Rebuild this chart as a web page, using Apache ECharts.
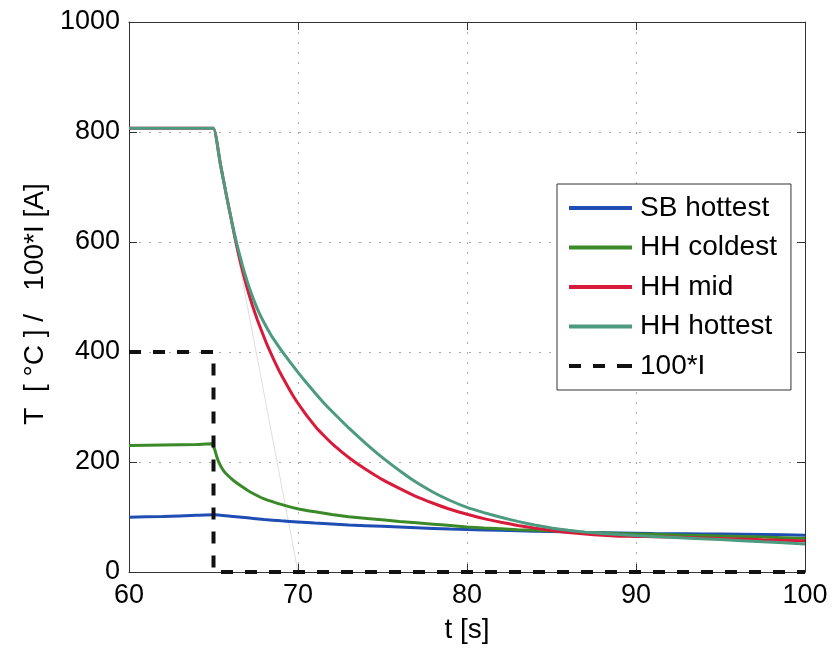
<!DOCTYPE html>
<html>
<head>
<meta charset="utf-8">
<title>Temperature and current decay</title>
<script src="https://cdn.jsdelivr.net/npm/echarts@6/dist/echarts.min.js"></script>
<style>
  html, body { margin: 0; padding: 0; background: #fff; }
  #chart { width: 833px; height: 651px; }
</style>
</head>
<body>
<div id="chart"></div>
<script>
// Axis ticks
const xTicks = [60, 70, 80, 90, 100];
const yTicks = [0, 200, 400, 600, 800, 1000];

// SB hottest
const sbHottestT = [60, 62, 64, 65, 66, 67, 68, 69, 70, 71, 73, 75, 77, 79, 81, 83, 85, 87, 89, 91, 93, 95, 97.5, 100];
const sbHottestV = [99.5, 101, 103, 104, 101.5, 98.5, 95.5, 93, 91, 89, 85.5, 83, 80.5, 78, 76.5, 75, 73.5, 72, 71, 70, 69.5, 69, 68, 67];

// HH coldest
const hhColdestT = [60, 62, 64, 64.9, 65, 65.1, 65.2, 65.35, 65.6, 65.9, 66.2, 66.7, 67.15, 68, 69.1, 70.1, 71.1, 72, 73, 74.25, 76, 78, 79, 80, 81, 83, 85, 87, 89, 91, 93, 95, 97.5, 100];
const hhColdestV = [230, 231, 232, 233, 228, 220, 209, 197, 184, 174, 166, 155, 146, 133, 122, 114, 109, 104.5, 100.5, 97, 92, 87, 84.5, 82, 80, 77, 74.5, 72, 70, 68.5, 67, 65.5, 63.5, 61];

// HH mid
const hhMidT = [60, 64.5, 65, 65.4, 65.8, 66.06, 66.3, 66.5, 66.75, 67, 67.3, 67.6, 67.9, 68.2, 68.6, 69, 69.4, 69.8, 70.2, 70.6, 71.1, 71.6, 72.1, 72.6, 73.1, 73.6, 74.3, 75, 76, 77, 78, 79, 80, 81, 82, 83, 84, 85, 86, 87, 88, 89, 90, 91, 93, 95, 97.5, 100];
const hhMidV = [807, 807, 807, 743, 679, 640, 603, 575, 544, 515, 485, 458, 434, 411, 384, 359, 337, 316, 298, 281, 262, 246, 231, 218, 206, 195, 181, 168, 152, 137, 125, 114, 105, 97, 90.5, 84.7, 79.8, 75.4, 71.9, 68.9, 66.8, 65.2, 64.6, 64.2, 62.6, 61, 58.6, 56.5];

// HH hottest
const hhHottestT = [60, 64.5, 65, 65.4, 65.8, 66.1, 66.36, 66.7, 67, 67.35, 67.7, 68.05, 68.4, 68.7, 69.06, 69.5, 70, 70.5, 71, 71.6, 72.27, 73, 74, 75, 76.22, 77, 78, 79, 80, 81, 82, 83, 84, 85, 86, 87, 88, 89, 90, 92, 95, 97.5, 100];
const hhHottestV = [807, 807, 807, 743, 679, 634, 599, 559, 528, 497, 471, 450, 431, 417, 401, 383, 363, 344, 326, 305, 284, 262, 234, 208, 179.5, 163, 145, 130, 117.5, 108, 99.5, 92, 85.5, 80, 75.8, 72.5, 70, 68, 66.2, 63, 59, 55, 51];

// 100*I (current step)
const currentT = [60, 65, 65, 100];
const currentV = [400, 400, 0, 0];

// Initial-slope guide line
const slopeT = [65, 70];
const slopeV = [807, 0];

// Legend entries
const legendNames = ['SB hottest', 'HH coldest', 'HH mid', 'HH hottest', '100*I'];

const zip = (t, v) => t.map((x, i) => [x, v[i]]);

const FONT = 'Liberation Sans, Arial, Helvetica, sans-serif';

const axisLineStyle = { color: '#333', width: 1 };
const gridLine = { show: true, lineStyle: { color: '#a8a8a8', width: 1, type: [2, 8] } };

// Legend glyphs: a solid bar, and three dashes for the current trace
const SOLID_ICON = 'rect';
const DASH_ICON = 'path://M0,0h12v4h-12z M24,0h12v4h-12z M48,0h15v4h-15z';

function lineSeries(name, t, v, color, extra) {
  return Object.assign({
    name: name,
    type: 'line',
    data: zip(t, v),
    showSymbol: false,
    symbol: 'none',
    smooth: 0.15,
    lineStyle: { color: color, width: 3 },
    itemStyle: { color: color },
    animation: false
  }, extra || {});
}

const chart = echarts.init(document.getElementById('chart'), null, { renderer: 'canvas' });

chart.setOption({
  backgroundColor: '#fff',
  animation: false,
  textStyle: { fontFamily: FONT, color: '#000' },
  grid: { left: 129, right: 28, top: 22, bottom: 79, containLabel: false },
  xAxis: [
    {
      type: 'value', min: xTicks[0], max: xTicks[xTicks.length - 1], interval: 10,
      name: 't [s]', nameLocation: 'middle', nameGap: 44,
      nameTextStyle: { fontSize: 28, color: '#000', fontFamily: FONT },
      axisLine: { show: true, lineStyle: axisLineStyle },
      axisTick: { show: true, inside: true, length: 8, lineStyle: axisLineStyle },
      axisLabel: { fontSize: 27, color: '#000', margin: 10, fontFamily: FONT, formatter: v => String(v) },
      splitLine: gridLine
    },
    {
      type: 'value', position: 'top', min: xTicks[0], max: xTicks[xTicks.length - 1], interval: 10,
      axisLine: { show: true, onZero: false, lineStyle: axisLineStyle },
      axisTick: { show: true, inside: true, length: 8, lineStyle: axisLineStyle },
      axisLabel: { show: false },
      splitLine: { show: false }
    }
  ],
  yAxis: [
    {
      type: 'value', min: yTicks[0], max: yTicks[yTicks.length - 1], interval: 200,
      name: 'T  [ °C ] /   100*I [A]', nameLocation: 'middle', nameGap: 72,
      nameTextStyle: { fontSize: 28, color: '#000', fontFamily: FONT, padding: [0, 14, 0, 0] },
      axisLine: { show: true, lineStyle: axisLineStyle },
      axisTick: { show: true, inside: true, length: 8, lineStyle: axisLineStyle },
      axisLabel: { fontSize: 27, color: '#000', margin: 9, fontFamily: FONT, formatter: v => String(v) },
      splitLine: gridLine
    },
    {
      type: 'value', position: 'right', min: yTicks[0], max: yTicks[yTicks.length - 1], interval: 200,
      axisLine: { show: true, onZero: false, lineStyle: axisLineStyle },
      axisTick: { show: true, inside: true, length: 8, lineStyle: axisLineStyle },
      axisLabel: { show: false },
      splitLine: { show: false }
    }
  ],
  legend: {
    orient: 'vertical',
    left: 557, top: 184,
    padding: [10, 14, 10, 12],
    itemWidth: 63, itemHeight: 4, itemGap: 11.5,
    backgroundColor: '#fff',
    borderColor: '#333', borderWidth: 1, borderRadius: 0,
    textStyle: { fontSize: 28, lineHeight: 28, color: '#000', fontFamily: FONT, padding: [0, 0, 0, 3] },
    data: legendNames.map(n => ({ name: n, icon: n === '100*I' ? DASH_ICON : SOLID_ICON }))
  },
  series: [
    lineSeries('initial slope', slopeT, slopeV, '#c8c8c8', { smooth: false, lineStyle: { color: '#c8c8c8', width: 0.6 }, z: 1, silent: true }),
    lineSeries('SB hottest', sbHottestT, sbHottestV, '#1f4db3'),
    lineSeries('HH coldest', hhColdestT, hhColdestV, '#3b8a2a'),
    lineSeries('HH mid', hhMidT, hhMidV, '#d81b3a'),
    lineSeries('HH hottest', hhHottestT, hhHottestV, '#4c9a7f'),
    lineSeries('100*I', currentT, currentV, '#111', {
      smooth: false,
      lineStyle: { color: '#111', width: 4, type: [12, 12], cap: 'butt' },
      clip: false
    })
  ]
});
</script>
</body>
</html>
